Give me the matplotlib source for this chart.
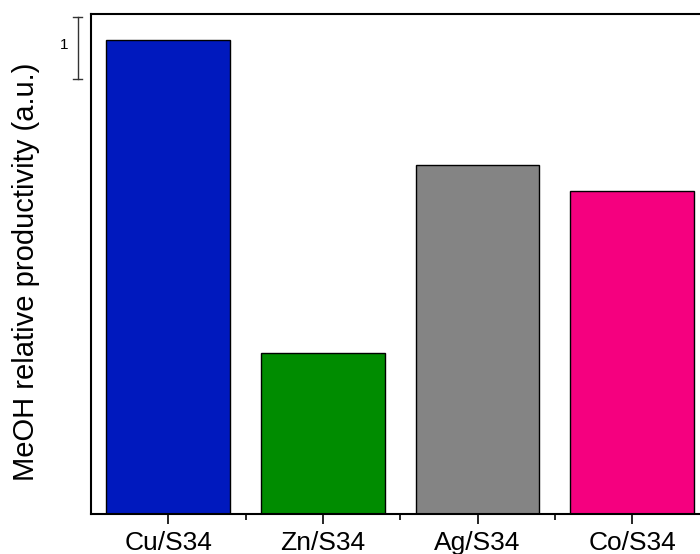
import matplotlib.pyplot as plt
import numpy as np

plt.rcParams['font.family'] = ['Liberation Sans', 'DejaVu Sans']

# relative MeOH productivity, normalised to Cu/S34
catalysts = ['Cu/S34', 'Zn/S34', 'Ag/S34', 'Co/S34']
productivity = [1.0, 0.340, 0.736, 0.681]
colors = ['#0019BE', '#008C00', '#848484', '#F5007F']

fig = plt.figure(figsize=(7, 5.54), dpi=100)
ax = fig.add_axes([91 / 700, 40 / 554, 618.5 / 700, 500 / 554])

x = np.arange(1, len(catalysts) + 1)
ax.bar(x, productivity, width=0.8, color=colors, edgecolor='black', linewidth=1.0)

ax.set_xlim(0.5, 4.5)
ax.set_ylim(0, 1.055)
ax.set_xticks(x)
ax.set_xticklabels(catalysts, fontsize=19)
ax.set_xticks(x[:-1] + 0.5, minor=True)
ax.tick_params(axis='x', which='major', length=7, width=1.2, pad=5)
ax.tick_params(axis='x', which='minor', length=4, width=1.2)
ax.set_yticks([])
for s in ax.spines.values():
    s.set_linewidth(1.5)

fig.text(26 / 700, 1 - 272 / 554, 'MeOH relative productivity (a.u.)',
         fontsize=21, rotation=90, ha='center', va='center')

# scale bar for one unit
bx = 0.414
y0, y1 = 0.918, 1.049
ax.plot([bx, bx], [y0, y1], color='#333333', lw=1.0, clip_on=False)
for yy in (y0, y1):
    ax.plot([bx - 0.03, bx + 0.03], [yy, yy], color='#333333', lw=1.0, clip_on=False)
ax.text(bx - 0.06, (y0 + y1) / 2 + 0.006, '1', fontsize=11, ha='right', va='center')

fig.savefig('out.png', dpi=100)
